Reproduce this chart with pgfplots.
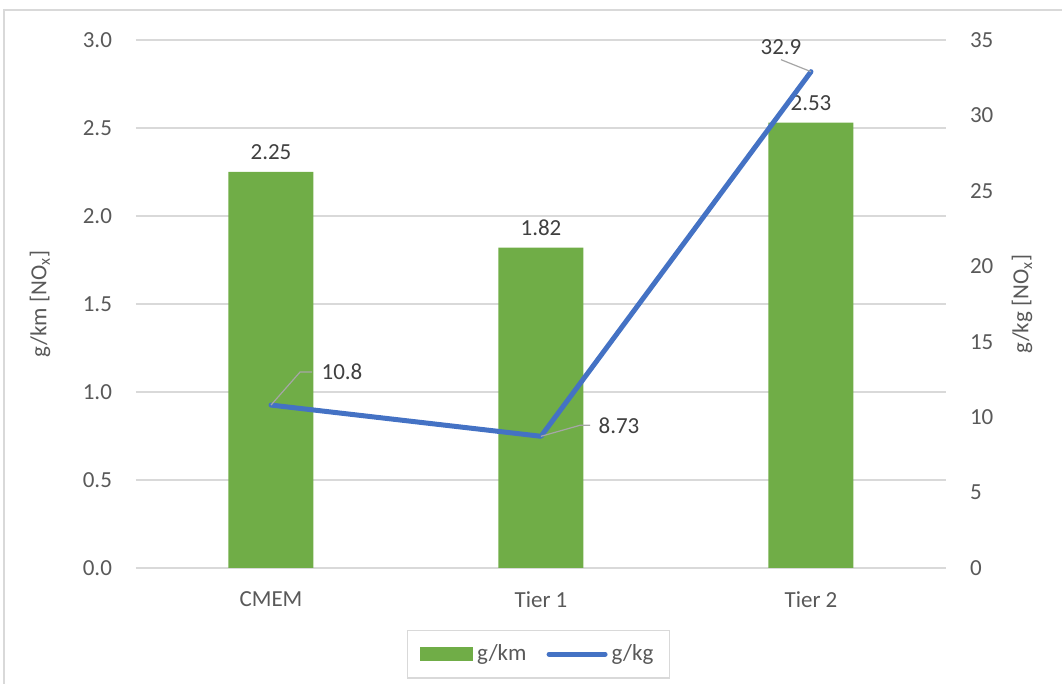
\documentclass[border=0pt]{standalone}
\usepackage{fontspec}
\setmainfont{Carlito}
\usepackage{pgfplots}
\pgfplotsset{compat=1.18}
\definecolor{barGreen}{HTML}{70AD47}
\definecolor{lineBlue}{HTML}{4472C4}
\definecolor{gridGray}{HTML}{D9D9D9}
\definecolor{tickText}{HTML}{595959}
\definecolor{labelText}{HTML}{404040}
\definecolor{leader}{HTML}{A6A6A6}

\begin{document}
\fontsize{11.5}{14}\selectfont
\begin{tikzpicture}
\path[use as bounding box] (-68pt,-58pt) rectangle (463pt,284pt);
\draw[gridGray, line width=0.75pt] (-66pt,-58pt) -- (-66pt,279pt) -- (463pt,279pt);

% NOx per km (bars, left axis)
\begin{axis}[
  at={(0pt,0pt)}, anchor=south west,
  scale only axis, width=405pt, height=264pt,
  xmin=-0.5, xmax=2.5, ymin=0, ymax=3,
  xtick={0,1,2}, xticklabels={CMEM, Tier 1, Tier 2},
  major x tick style={draw=none},
  extra x ticks={-0.5,0.5,1.5,2.5}, extra x tick labels={},
  extra x tick style={major tick length=5pt, tick align=outside,
    tick style={draw=gridGray, line width=0.75pt}, grid=none},
  xticklabel style={text=tickText, yshift=-8pt},
  ytick={0,0.5,1,1.5,2,2.5,3},
  axis x line*=bottom, axis y line*=left,
  x axis line style={draw=gridGray, line width=0.75pt, -},
  y axis line style={draw=none},
  ymajorgrids, grid style={draw=gridGray, line width=0.75pt},
  ytick style={draw=none},
  /pgf/number format/assume math mode=true,
  yticklabel style={/pgf/number format/fixed, /pgf/number format/fixed zerofill,
    /pgf/number format/precision=1, text=tickText, xshift=-8pt},
  ylabel={g/km [NO\textsubscript{x}]},
  every axis y label/.style={at={(axis description cs:-0.1185,0.5)}, rotate=90, anchor=center, text=tickText},
]
\addplot[ybar, bar width=42.5pt, fill=barGreen, draw=none,
  nodes near coords,
  nodes near coords style={text=labelText, yshift=2pt,
    /pgf/number format/fixed, /pgf/number format/fixed zerofill,
    /pgf/number format/precision=2}]
  coordinates {(0,2.25) (1,1.82) (2,2.53)};
\end{axis}

% NOx per kg of fuel (line, right axis)
\begin{axis}[
  at={(0pt,0pt)}, anchor=south west,
  scale only axis, width=405pt, height=264pt,
  xmin=-0.5, xmax=2.5, ymin=0, ymax=35,
  axis x line=none, axis y line*=right,
  y axis line style={draw=none}, ytick style={draw=none},
  ytick={0,5,10,15,20,25,30,35},
  /pgf/number format/assume math mode=true,
  yticklabel style={text=tickText, xshift=8pt},
  ylabel={g/kg [NO\textsubscript{x}]},
  every axis y label/.style={at={(axis description cs:1.094,0.5)}, rotate=90, anchor=center, text=tickText},
  clip=false,
  legend columns=2,
  legend style={at={(0.497,-0.117)}, anchor=north, draw=gridGray, line width=0.75pt,
    text=tickText, inner xsep=6pt, inner ysep=5pt,
    /tikz/every even column/.append style={column sep=8pt}},
]
\addlegendimage{legend image code/.code={\fill[barGreen] (0pt,-3.25pt) rectangle (26pt,3.25pt);}}
\addlegendentry{g/km}
\addplot[lineBlue, line width=2.5pt, line cap=round, line join=round,
  legend image code/.code={\draw[lineBlue, line width=2.5pt, line cap=round] (0pt,0pt) -- (28pt,0pt);}]
  coordinates {(0,10.8) (1,8.73) (2,32.9)};
\addlegendentry{g/kg}
\draw[leader, line width=0.6pt] (axis cs:0,10.8) -- ++(14.5pt,16.5pt) -- ++(6pt,0pt)
  node[anchor=west, inner sep=4.5pt, text=labelText] {10.8};
\draw[leader, line width=0.6pt] (axis cs:1,8.73) -- ++(19.5pt,5.5pt) -- ++(5pt,0pt)
  node[anchor=west, inner sep=4pt, text=labelText] {8.73};
\draw[leader, line width=0.6pt] (axis cs:2,32.9) -- ++(-15pt,6pt)
  node[anchor=south, inner sep=2pt, text=labelText] {32.9};
\end{axis}
\end{tikzpicture}
\end{document}
